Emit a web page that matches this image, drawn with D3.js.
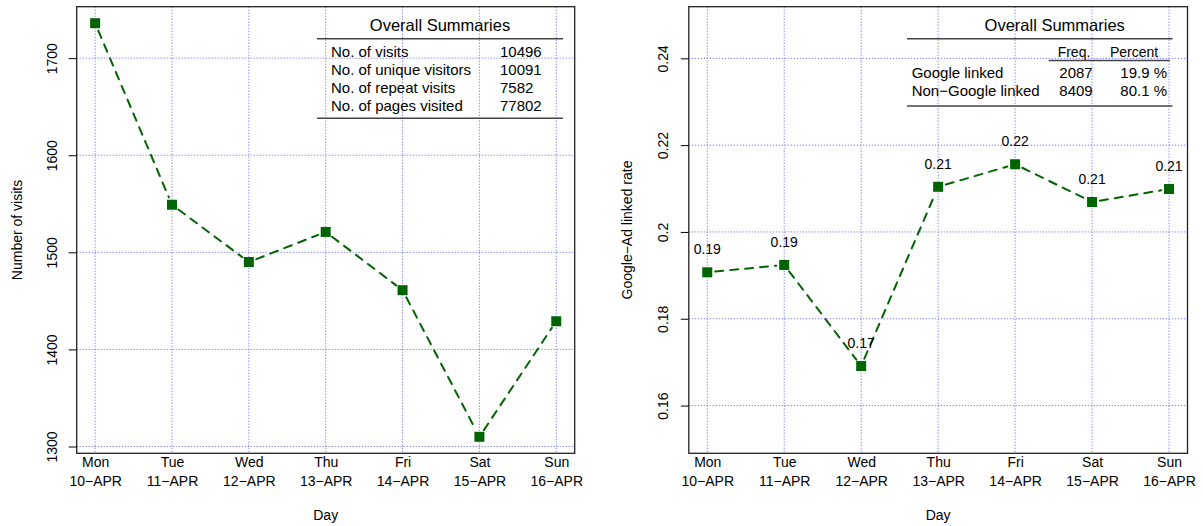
<!DOCTYPE html>
<html>
<head>
<meta charset="utf-8">
<script src="https://cdn.jsdelivr.net/npm/d3@7"></script>
<style>
  html, body { margin: 0; padding: 0; background: #fff; }
  text { font-family: "Liberation Sans", Arial, Helvetica, sans-serif; fill: #000; }
</style>
</head>
<body>
<svg id="chart" width="1203" height="526"></svg>
<script>
// ---------- data ----------
const days = ["Mon", "Tue", "Wed", "Thu", "Fri", "Sat", "Sun"];
const dates = ["10\u2212APR", "11\u2212APR", "12\u2212APR", "13\u2212APR", "14\u2212APR", "15\u2212APR", "16\u2212APR"];
const visits = [1736, 1549, 1490, 1521, 1461, 1310, 1429];
const googleRate = [0.1907, 0.1924, 0.1691, 0.2104, 0.2156, 0.2069, 0.2099];

const visitTicks = [1300, 1400, 1500, 1600, 1700];
const rateTicks = [0.16, 0.18, 0.20, 0.22, 0.24];
const visitDomain = [1293, 1753];
const rateDomain = [0.1490, 0.2519];

const summaryTitle = "Overall Summaries";
const summaryLabels = ["No. of visits", "No. of unique visitors", "No. of repeat visits", "No. of pages visited"];
const summaryValues = ["10496", "10091", "7582", "77802"];

const googleHeaders = ["Freq.", "Percent"];
const googleRows = ["Google linked", "Non\u2212Google linked"];
const googleFreq = ["2087", "8409"];
const googlePct = ["19.9 %", "80.1 %"];

// ---------- layout ----------
const svg = d3.select("#chart");
const GREEN = "#006400";
const GRID = "#5a5aff";
const panels = [
  { left: 76.7, right: 574.7, top: 6.7, bottom: 453.3, values: visits, domain: visitDomain,
    ticks: visitTicks, tickFmt: d3.format("d"), ytitle: "Number of visits",
    ytitleX: 21.7, tickLabX: 56.7, labels: false },
  { left: 688.8, right: 1187.5, top: 6.7, bottom: 453.3, values: googleRate, domain: rateDomain,
    ticks: rateTicks, tickFmt: d => String(+d.toFixed(2)), ytitle: "Google\u2212Ad linked rate",
    ytitleX: 631.5, tickLabX: 667.5, labels: true }
];

panels.forEach(p => {
  const g = svg.append("g");
  const x = d3.scalePoint().domain(days).range([p.left, p.right]).padding(0.24 / 1 * (1)).align(0.5);
  // R-style 4% expansion: 6 intervals + 2*0.24 units
  const unit = (p.right - p.left) / 6.48;
  x.range([p.left + 0.24 * unit, p.right - 0.24 * unit]).padding(0);
  const y = d3.scaleLinear().domain(p.domain).range([p.bottom, p.top]);

  // grid
  g.append("g").selectAll("line.v").data(days).join("line")
    .attr("x1", d => x(d)).attr("x2", d => x(d))
    .attr("y1", p.top).attr("y2", p.bottom)
    .attr("stroke", GRID).attr("stroke-width", 1).attr("stroke-dasharray", "1,2");
  g.append("g").selectAll("line.h").data(p.ticks).join("line")
    .attr("x1", p.left).attr("x2", p.right)
    .attr("y1", d => y(d)).attr("y2", d => y(d))
    .attr("stroke", GRID).attr("stroke-width", 1).attr("stroke-dasharray", "1,2");

  // y axis via d3
  const yAxis = d3.axisLeft(y).tickValues(p.ticks).tickSize(8).tickPadding(0).tickFormat(p.tickFmt);
  const ax = g.append("g").attr("transform", `translate(${p.left},0)`).call(yAxis);
  ax.select(".domain").remove();
  ax.selectAll(".tick line").attr("stroke", "#000").attr("stroke-width", 1);
  ax.selectAll(".tick text")
    .attr("x", null).attr("dy", null)
    .attr("transform", `translate(${p.tickLabX - p.left},0) rotate(-90)`)
    .attr("text-anchor", "middle")
    .attr("font-size", 14).attr("font-family", '"Liberation Sans", Arial, sans-serif')
    .attr("fill", "#000");

  // x axis labels via d3 axis (no ticks)
  const xAxis = d3.axisBottom(x).tickSize(0).tickFormat("");
  const xa = g.append("g").attr("transform", `translate(0,${p.bottom})`).call(xAxis);
  xa.select(".domain").remove();
  xa.selectAll(".tick").each(function(d, i) {
    const t = d3.select(this);
    t.selectAll("text").remove();
    t.append("text").attr("y", 467.5 - p.bottom).attr("text-anchor", "middle")
      .attr("font-size", 14).text(d);
    t.append("text").attr("y", 486 - p.bottom).attr("text-anchor", "middle")
      .attr("font-size", 14).text(dates[i]);
  });

  // axis titles
  svg.append("text").attr("x", (p.left + p.right) / 2).attr("y", 520)
    .attr("text-anchor", "middle").attr("font-size", 14).text("Day");
  svg.append("text")
    .attr("transform", `translate(${p.ytitleX},${(p.top + p.bottom) / 2}) rotate(-90)`)
    .attr("text-anchor", "middle").attr("font-size", 14).text(p.ytitle);

  // line (type "b": segments with gaps around points)
  const pts = p.values.map((v, i) => [x(days[i]), y(v)]);
  const gap = 8;
  const segs = d3.pairs(pts).map(([a, b]) => {
    const dx = b[0] - a[0], dy = b[1] - a[1], L = Math.hypot(dx, dy);
    const ux = dx / L, uy = dy / L;
    return [[a[0] + ux * gap, a[1] + uy * gap], [b[0] - ux * gap, b[1] - uy * gap]];
  });
  g.append("g").selectAll("path").data(segs).join("path")
    .attr("d", d => d3.line()(d))
    .attr("fill", "none").attr("stroke", GREEN).attr("stroke-width", 2)
    .attr("stroke-linecap", "round").attr("stroke-dasharray", "8,7");

  // markers
  g.append("g").selectAll("rect").data(p.values).join("rect")
    .attr("x", (d, i) => x(days[i]) - 5).attr("y", d => y(d) - 5)
    .attr("width", 10).attr("height", 10).attr("fill", GREEN);

  if (p.labels) {
    const f = d3.format(".2f");
    g.append("g").selectAll("text").data(p.values).join("text")
      .attr("x", (d, i) => x(days[i])).attr("y", d => y(d) - 18)
      .attr("text-anchor", "middle").attr("font-size", 14)
      .text(d => f(d));
  }

  // box
  g.append("rect").attr("x", p.left).attr("y", p.top)
    .attr("width", p.right - p.left).attr("height", p.bottom - p.top)
    .attr("fill", "none").attr("stroke", "#222").attr("stroke-width", 1.3);
});

// ---------- summary tables ----------
const RULE = "#444";
function rule(x1, x2, yy) {
  svg.append("line").attr("x1", x1).attr("x2", x2).attr("y1", yy).attr("y2", yy)
    .attr("stroke", RULE).attr("stroke-width", 1.5);
}
// left table
svg.append("text").attr("x", 440).attr("y", 31).attr("text-anchor", "middle")
  .attr("font-size", 16.5).text(summaryTitle);
rule(317, 563, 38.7);
svg.append("g").selectAll("text").data(summaryLabels).join("text")
  .attr("x", 331).attr("y", (d, i) => 57.2 + i * 17.8).attr("font-size", 15).text(d => d);
svg.append("g").selectAll("text").data(summaryValues).join("text")
  .attr("x", 500).attr("y", (d, i) => 57.2 + i * 17.8).attr("font-size", 15).text(d => d);
rule(317, 563, 118.3);

// right table
svg.append("text").attr("x", 1054.7).attr("y", 31).attr("text-anchor", "middle")
  .attr("font-size", 16.5).text(summaryTitle);
rule(907, 1172.5, 38.7);
svg.append("text").attr("x", 1074).attr("y", 57).attr("text-anchor", "middle").attr("font-size", 14).text(googleHeaders[0]);
svg.append("text").attr("x", 1134).attr("y", 57).attr("text-anchor", "middle").attr("font-size", 14).text(googleHeaders[1]);
rule(1048.6, 1169.8, 60.5);
svg.append("g").selectAll("text").data(googleRows).join("text")
  .attr("x", 911.7).attr("y", (d, i) => 77.8 + i * 18).attr("font-size", 15).text(d => d);
svg.append("g").selectAll("text").data(googleFreq).join("text")
  .attr("x", 1076).attr("y", (d, i) => 77.8 + i * 18).attr("text-anchor", "middle").attr("font-size", 15).text(d => d);
svg.append("g").selectAll("text").data(googlePct).join("text")
  .attr("x", 1167).attr("y", (d, i) => 77.8 + i * 18).attr("text-anchor", "end").attr("font-size", 15).text(d => d);
rule(907, 1172.5, 106);
</script>
</body>
</html>
